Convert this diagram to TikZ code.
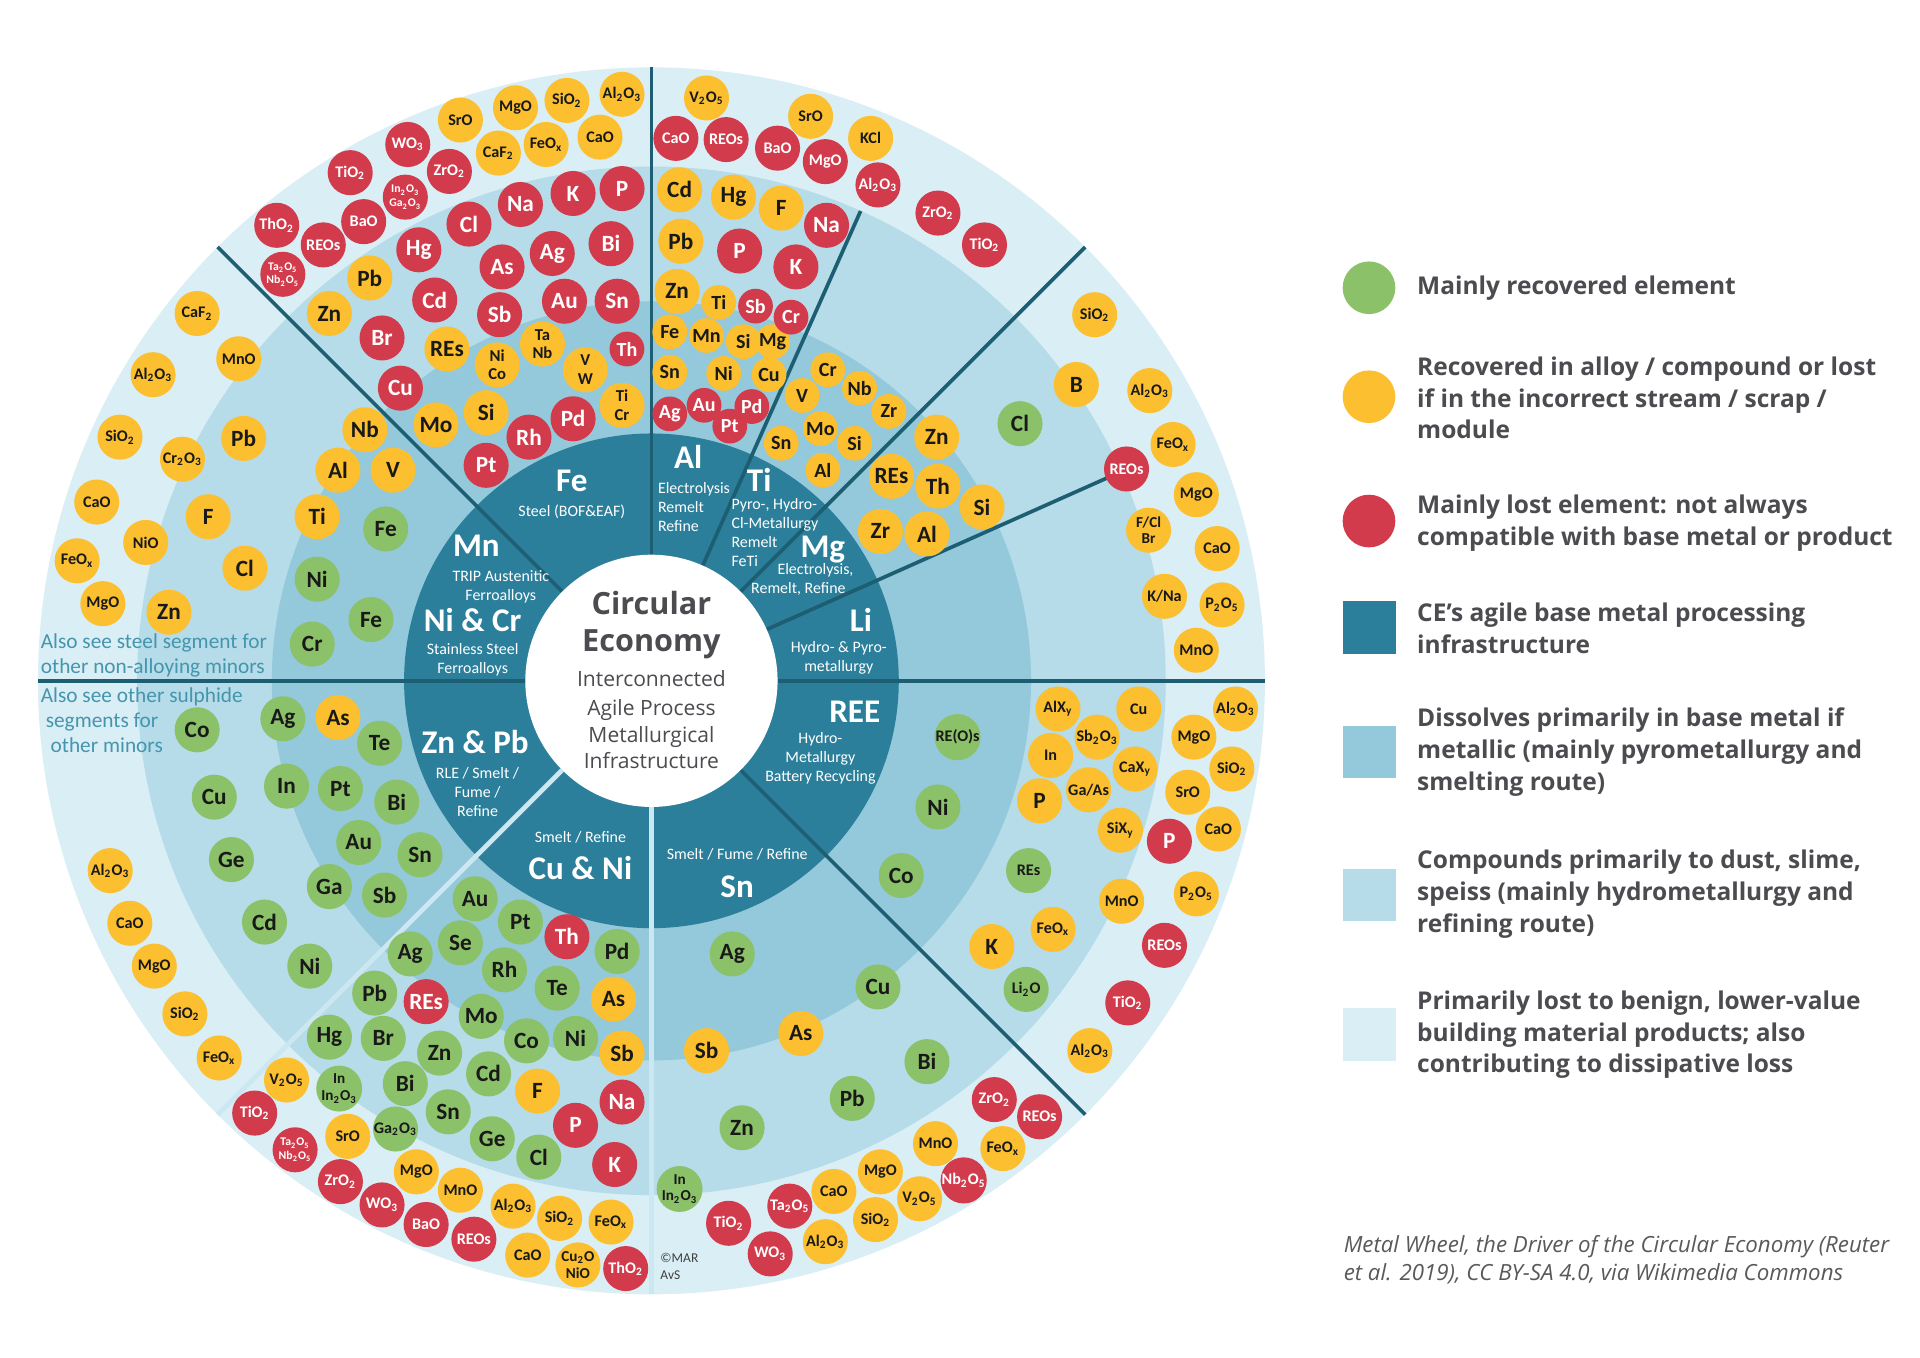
\documentclass[tikz,border=0pt]{standalone}
\usepackage{fontspec}
\setmainfont{Carlito}
\newfontfamily\opensans{Open Sans}

\definecolor{elgreen}{HTML}{8BC168}
\definecolor{elyellow}{HTML}{FBBF2F}
\definecolor{elred}{HTML}{D23B4B}
\definecolor{ringdark}{HTML}{2C7F9B}
\definecolor{ringmid}{HTML}{93C9DB}
\definecolor{ringlight}{HTML}{B5DCE8}
\definecolor{ringpale}{HTML}{DAEEF5}
\definecolor{sepline}{HTML}{1D5E72}
\definecolor{sepsoft}{HTML}{CBE7F1}
\definecolor{legtext}{HTML}{4B4B50}
\definecolor{seetext}{HTML}{4495AD}

\tikzset{
  bub/.style={circle, inner sep=0pt, minimum size=18.4pt, align=center,
    font=\bfseries\fontsize{9.5}{10}\selectfont},
  greenbub/.style={bub, fill=elgreen, text=black!90},
  yellowbub/.style={bub, fill=elyellow, text=black!90},
  redbub/.style={bub, fill=elred, text=white},
  el/.style={},
  ox/.style={font=\bfseries\fontsize{6.6}{7}\selectfont},
  sm/.style={minimum size=14.2pt, font=\bfseries\fontsize{8.2}{9}\selectfont},
  tw/.style={font=\bfseries\fontsize{6.8}{7.6}\selectfont},
  tw2/.style={font=\bfseries\fontsize{6.2}{6.8}\selectfont},
  ti/.style={font=\bfseries\fontsize{4.8}{5.6}\selectfont},
  seg/.style={text=white, font=\bfseries\fontsize{13.5}{14}\selectfont, inner sep=0pt},
  segsub/.style={text=white, font=\fontsize{6.5}{7.8}\selectfont, inner sep=0pt},
  centretitle/.style={text=legtext, inner sep=0pt, font=\opensans\bfseries\fontsize{12.5}{14}\selectfont},
  centresub/.style={text=legtext, inner sep=0pt, font=\opensans\fontsize{8.6}{11}\selectfont},
  sep/.style={sepline, line width=1.5pt},
  softsep/.style={sepsoft, line width=2pt},
  legmark/.style={inner sep=0pt, minimum size=21.5pt},
  legentry/.style={anchor=west, align=left, inner sep=0pt, text=legtext,
    font=\opensans\bfseries\fontsize{10}{13}\selectfont},
  seenote/.style={anchor=west, align=left, inner sep=0pt, text=seetext,
    font=\fontsize{8.7}{10.2}\selectfont},
}

\begin{document}
\begin{tikzpicture}[x=0.5pt, y=-0.5pt]
  \useasboundingbox (0,0) rectangle (1568,1109);
  \fill[white] (0,0) rectangle (1568,1109);

  % wheel rings
  \coordinate (c) at (532,556);
  \fill[ringpale] (c) circle[radius=501];
  \fill[ringlight] (c) circle[radius=420];
  \fill[ringmid] (c) circle[radius=310];
  \fill[ringdark] (c) circle[radius=202];

  % segment borders
  \begin{scope}[shift={(532,556)}]
    \foreach \a in {0,-45,-90,-135,180,45}
      \draw[sep] (\a:103) -- (\a:501);
    \foreach \a in {-24,-66}
      \draw[sep] (\a:103) -- (\a:420);
    \foreach \a in {90,135}
      \draw[softsep] (\a:103) -- (\a:501);
  \end{scope}
  \fill[white] (c) circle[radius=103];

  % centre
  \node[centretitle, anchor=base] (circ) at (532,502) {Circular};
  \node[centretitle, anchor=base] (econ) at (532,532) {Economy};
  \node[centresub, anchor=base] (inter) at (532,561) {Interconnected};
  \node[centresub, anchor=base] (agile) at (532,584) {Agile Process};
  \node[centresub, anchor=base] (metal) at (532,606) {Metallurgical};
  \node[centresub, anchor=base] (infra) at (532,628) {Infrastructure};

  % base metal segments
  \node[seg] (fe) at (467,393) {Fe};
  \node[segsub] (fesub) at (467,418) {Steel (BOF\&EAF)};
  \node[seg] (al) at (562,373) {Al};
  \node[segsub, anchor=west, align=left] (alsub) at (537,414) {Electrolysis\\Remelt\\Refine};
  \node[seg] (ti) at (620,392) {Ti};
  \node[segsub, anchor=west, align=left] (tisub) at (597,435) {Pyro-, Hydro-\\Cl-Metallurgy\\Remelt\\FeTi};
  \node[seg] (mg) at (672,449) {Mg};
  \node[segsub] (mgsub) at (666,466) {Electrolysis,};
  \node[segsub] (mgsubb) at (652,481) {Remelt, Refine};
  \node[seg] (li) at (703,506) {Li};
  \node[segsub, align=center] (lisub) at (685,537) {Hydro- \& Pyro-\\metallurgy};
  \node[seg] (ree) at (698,581) {REE};
  \node[segsub, align=center] (reesub) at (670,619) {Hydro-\\Metallurgy\\Battery Recycling};
  \node[segsub] (snsub) at (602,698) {Smelt / Fume / Refine};
  \node[seg] (sn) at (602,724) {Sn};
  \node[segsub] (cunisub) at (474,684) {Smelt / Refine};
  \node[seg] (cuni) at (474,709) {Cu \& Ni};
  \node[seg] (znpb) at (388,606) {Zn \& Pb};
  \node[segsub, align=center] (znpbsub) at (390,647) {RLE / Smelt /\\Fume /\\Refine};
  \node[seg] (nicr) at (386,506) {Ni \& Cr};
  \node[segsub, align=center] (nicrsub) at (386,539) {Stainless Steel\\Ferroalloys};
  \node[seg] (mn) at (389,446) {Mn};
  \node[segsub, align=center] (mnsub) at (409,479) {TRIP Austenitic\\Ferroalloys};

  % yellow: recovered in alloy / compound or lost
  \foreach \px/\py/\sty/\lbl [count=\nb] in {
    376/98/ox/SrO, 421/88/ox/MgO, 463/82/ox/{SiO\textsubscript{2}},
    508/77/ox/{Al\textsubscript{2}O\textsubscript{3}}, 407/125/ox/{CaF\textsubscript{2}},
    446/118/ox/{FeO\textsubscript{x}}, 490/112/ox/CaO,
    302/227/el/Pb, 269/256/el/Zn, 365/285/el/REs,
    406/298/tw/{Ni\\Co}, 443/281/tw/{Ta\\Nb}, 478/302/tw/{V\\W}, 508/331/tw/{Ti\\Cr},
    397/337/el/Si, 356/347/el/Mo, 298/351/el/Nb, 276/384/el/Al, 321/384/el/V,
    161/256/ox/{CaF\textsubscript{2}}, 195/293/ox/MnO,
    125/306/ox/{Al\textsubscript{2}O\textsubscript{3}}, 98/357/ox/{SiO\textsubscript{2}},
    149/375/ox/{Cr\textsubscript{2}O\textsubscript{3}}, 199/358/el/Pb, 79/410/ox/CaO,
    170/422/el/F, 259/422/el/Ti, 119/443/ox/NiO, 63/458/ox/{FeO\textsubscript{x}},
    200/464/el/Cl, 84/493/ox/MgO, 138/500/el/Zn,
    276/586/el/As, 90/711/ox/{Al\textsubscript{2}O\textsubscript{3}}, 106/754/ox/CaO,
    126/789/ox/MgO, 151/828/ox/{SiO\textsubscript{2}}, 179/864/ox/{FeO\textsubscript{x}},
    501/816/el/As, 508/860/el/Sb, 439/891/el/F,
    234/882/ox/{V\textsubscript{2}O\textsubscript{5}}, 284/928/ox/SrO, 340/957/ox/MgO,
    376/972/ox/MnO, 419/985/ox/{Al\textsubscript{2}O\textsubscript{3}},
    457/995/ox/{SiO\textsubscript{2}}, 499/998/ox/{FeO\textsubscript{x}}, 431/1025/ox/CaO,
    472/1033/tw2/{Cu\textsubscript{2}O\\NiO},
    654/844/el/As, 577/858/el/Sb, 681/973/ox/CaO,
    674/1014/ox/{Al\textsubscript{2}O\textsubscript{3}}, 719/957/ox/MgO,
    715/996/ox/{SiO\textsubscript{2}}, 751/979/ox/{V\textsubscript{2}O\textsubscript{5}},
    764/934/ox/MnO, 819/938/ox/{FeO\textsubscript{x}},
    860/759/ox/{FeO\textsubscript{x}}, 810/773/el/K,
    890/858/ox/{Al\textsubscript{2}O\textsubscript{3}}, 864/579/ox/{AlX\textsubscript{y}},
    930/579/ox/Cu, 1009/579/ox/{Al\textsubscript{2}O\textsubscript{3}},
    896/602/ox/{Sb\textsubscript{2}O\textsubscript{3}}, 975/602/ox/MgO, 858/617/ox/In,
    927/628/ox/{CaX\textsubscript{y}}, 1006/628/ox/{SiO\textsubscript{2}},
    889/645/ox/{Ga/As}, 970/647/ox/SrO, 849/654/el/P,
    915/678/ox/{SiX\textsubscript{y}}, 995/677/ox/CaO, 916/736/ox/MnO,
    977/730/ox/{P\textsubscript{2}O\textsubscript{5}},
    977/404/ox/MgO, 938/433/tw2/{F/Cl\\Br}, 994/448/ox/CaO, 951/487/ox/{K/Na},
    998/494/ox/{P\textsubscript{2}O\textsubscript{5}}, 977/531/ox/MnO,
    894/257/ox/{SiO\textsubscript{2}}, 879/314/el/B,
    939/319/ox/{Al\textsubscript{2}O\textsubscript{3}}, 958/363/ox/{FeO\textsubscript{x}},
    765/357/el/Zn, 728/389/el/REs, 766/397/el/Th, 802/414/el/Si, 719/434/el/Zr, 757/436/el/Al,
    676/302/sm/Cr, 655/323/sm/V, 702/317/sm/Nb, 670/350/sm/Mo, 638/362/sm/Sn,
    698/362/sm/Si, 672/384/sm/Al, 726/336/sm/Zr,
    577/80/ox/{V\textsubscript{2}O\textsubscript{5}}, 662/95/ox/SrO, 711/113/ox/KCl,
    555/155/el/Cd, 599/161/el/Hg, 638/170/el/F, 556/197/el/Pb, 553/238/el/Zn,
    587/247/sm/Ti, 547/271/sm/Fe, 577/274/sm/Mn, 607/279/sm/Si, 631/279/sm/Mg,
    547/304/sm/Sn, 591/305/sm/Ni, 628/306/sm/Cu}
    \node[yellowbub, \sty] (y\nb) at (\px,\py) {\lbl};

  % red: mainly lost
  \foreach \px/\py/\sty/\lbl [count=\nb] in {
    333/118/ox/{WO\textsubscript{3}}, 286/141/ox/{TiO\textsubscript{2}},
    367/140/ox/{ZrO\textsubscript{2}},
    331/161/ti/{In\textsubscript{2}O\textsubscript{3}\\Ga\textsubscript{2}O\textsubscript{3}},
    226/184/ox/{ThO\textsubscript{2}}, 297/181/ox/BaO, 264/200/ox/REOs,
    231/224/ti/{Ta\textsubscript{2}O\textsubscript{5}\\Nb\textsubscript{2}O\textsubscript{5}},
    342/204/el/Hg, 383/183/el/Cl, 355/245/el/Cd, 312/276/el/Br, 327/317/el/Cu,
    425/167/el/Na, 468/158/el/K, 508/154/el/P, 410/218/el/As, 451/207/el/Ag,
    499/199/el/Bi, 408/257/el/Sb, 461/246/el/Au, 504/246/el/Sn, 512/285/sm/Th,
    468/342/el/Pd, 432/357/el/Rh, 397/380/el/Pt,
    552/113/ox/CaO, 593/114/ox/REOs, 635/121/ox/BaO, 674/132/ox/MgO,
    717/151/ox/{Al\textsubscript{2}O\textsubscript{3}},
    675/184/el/Na, 604/205/el/P, 650/218/el/K,
    617/250/sm/Sb, 646/259/sm/Cr, 547/338/sm/Ag, 575/331/sm/Au, 596/348/sm/Pt, 614/332/sm/Pd,
    766/174/ox/{ZrO\textsubscript{2}}, 804/200/ox/{TiO\textsubscript{2}}, 920/383/ox/REOs,
    955/687/el/P, 951/772/ox/REOs, 921/819/ox/{TiO\textsubscript{2}},
    812/898/ox/{ZrO\textsubscript{2}}, 849/912/ox/REOs,
    787/964/ox/{Nb\textsubscript{2}O\textsubscript{5}}, 595/999/ox/{TiO\textsubscript{2}},
    645/985/ox/{Ta\textsubscript{2}O\textsubscript{5}}, 629/1024/ox/{WO\textsubscript{3}},
    463/765/el/Th, 348/818/el/REs, 508/900/el/Na, 470/919/el/P, 502/951/el/K,
    208/909/ox/{TiO\textsubscript{2}},
    241/939/ti/{Ta\textsubscript{2}O\textsubscript{5}\\Nb\textsubscript{2}O\textsubscript{5}},
    278/965/ox/{ZrO\textsubscript{2}}, 312/984/ox/{WO\textsubscript{3}}, 348/1000/ox/BaO,
    387/1012/ox/REOs, 511/1036/ox/{ThO\textsubscript{2}}}
    \node[redbub, \sty] (r\nb) at (\px,\py) {\lbl};

  % green: mainly recovered
  \foreach \px/\py/\sty/\lbl [count=\nb] in {
    315/432/el/Fe, 259/473/el/Ni, 303/506/el/Fe, 255/526/el/Cr,
    161/596/el/Co, 231/587/el/Ag, 310/607/el/Te, 175/651/el/Cu, 234/642/el/In,
    278/644/el/Pt, 324/655/el/Bi, 293/688/el/Au, 343/698/el/Sn, 189/702/el/Ge,
    269/724/el/Ga, 314/731/el/Sb, 216/753/el/Cd, 253/789/el/Ni,
    388/734/el/Au, 425/753/el/Pt, 504/777/el/Pd, 376/770/el/Se, 335/779/el/Ag,
    412/792/el/Rh, 455/807/el/Te, 306/811/el/Pb, 393/830/el/Mo, 430/850/el/Co,
    470/848/el/Ni, 269/847/el/Hg, 313/848/el/Br, 359/860/el/Zn, 399/877/el/Cd,
    331/885/el/Bi, 366/908/el/Sn, 402/930/el/Ge, 440/945/el/Cl,
    277/889/tw2/{In\\In\textsubscript{2}O\textsubscript{3}},
    323/922/ox/{Ga\textsubscript{2}O\textsubscript{3}},
    598/779/el/Ag, 696/897/el/Pb, 606/921/el/Zn, 717/806/el/Cu, 757/867/el/Bi,
    555/971/tw2/{In\\In\textsubscript{2}O\textsubscript{3}},
    782/602/ox/{RE(O)s}, 766/659/el/Ni, 736/715/el/Co, 840/711/ox/REs,
    838/808/ox/{Li\textsubscript{2}O}, 833/346/el/Cl}
    \node[greenbub, \sty] (g\nb) at (\px,\py) {\lbl};

  % notes in the outer ring
  \node[seenote] (seesteel) at (33,535.5) {Also see steel segment for\\other non-alloying minors};
  \node[seenote] (seesulph) at (33,588) {Also see other sulphide\\\hspace*{2pt}segments for\\\hspace*{4pt}other minors};
  \node[anchor=west, align=left, inner sep=0pt, text=black!75,
    font=\fontsize{5.5}{7}\selectfont] (mark) at (539,1034) {\textcopyright MAR\\AvS};

  % legend
  \node[legmark, circle, fill=elgreen] (lgreen) at (1118,235) {};
  \node[legmark, circle, fill=elyellow] (lyellow) at (1118,324) {};
  \node[legmark, circle, fill=elred] (lred) at (1118,425.5) {};
  \node[legmark, fill=ringdark] (ldark) at (1118.5,512.5) {};
  \node[legmark, fill=ringmid] (lmid) at (1118.5,614) {};
  \node[legmark, fill=ringlight] (llight) at (1118.5,731) {};
  \node[legmark, fill=ringpale] (lpale) at (1118.5,845) {};

  \node[legentry] (tgreen) at (1157,235) {Mainly recovered element};
  \node[legentry] (tyellow) at (1157,325) {Recovered in alloy / compound or lost\\if in the incorrect stream / scrap /\\module};
  \node[legentry] (tred) at (1157,427.5) {Mainly lost element: not always\\compatible with base metal or product};
  \node[legentry] (tdark) at (1157,513) {CE’s agile base metal processing\\infrastructure};
  \node[legentry] (tmid) at (1157,614) {Dissolves primarily in base metal if\\metallic (mainly pyrometallurgy and\\smelting route)};
  \node[legentry] (tlight) at (1157,730) {Compounds primarily to dust, slime,\\speiss (mainly hydrometallurgy and\\refining route)};
  \node[legentry] (tpale) at (1157,845) {Primarily lost to benign, lower-value\\building material products; also\\contributing to dissipative loss};

  \node[anchor=west, align=left, inner sep=0pt, text=black!65,
    font=\opensans\itshape\fontsize{9.1}{11.5}\selectfont] (credit) at (1097,1028.5)
    {Metal Wheel, the Driver of the Circular Economy (Reuter\\et al. 2019), CC BY-SA 4.0, via Wikimedia Commons};
\end{tikzpicture}
\end{document}
